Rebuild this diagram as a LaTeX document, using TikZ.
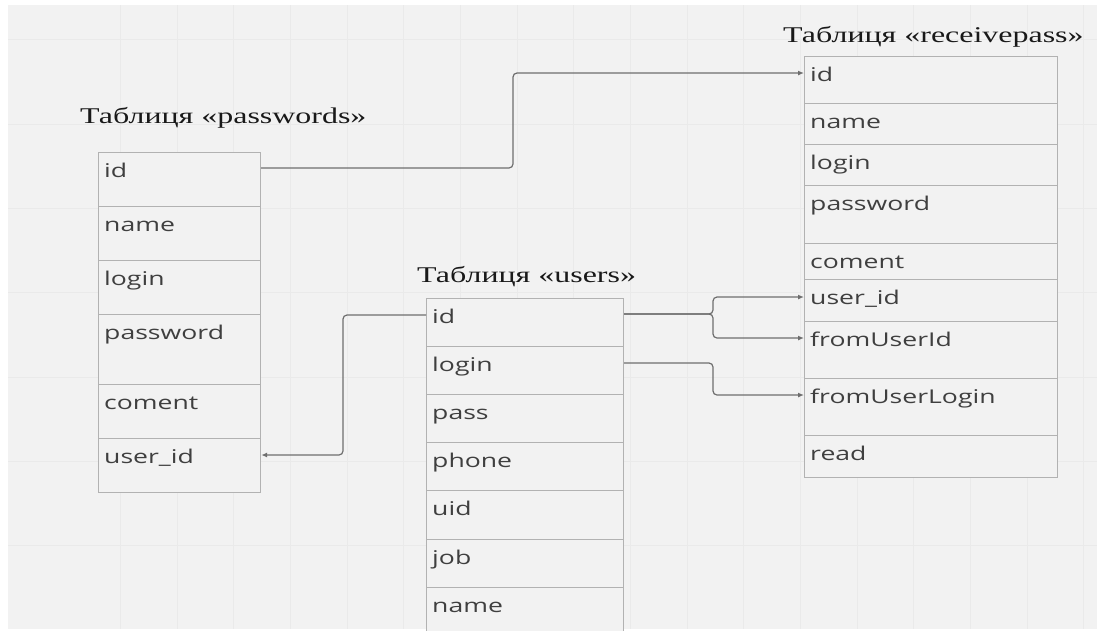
\documentclass[tikz,border=0pt]{standalone}
\usepackage{fontspec}
\usepackage{graphicx}
\setmainfont{Liberation Serif}
\newfontfamily\rowfont{Open Sans}
\usetikzlibrary{arrows.meta}
\definecolor{bg}{HTML}{F2F2F2}
\definecolor{bord}{HTML}{B2B2B2}
\definecolor{rowtxt}{HTML}{3F3F3F}
\definecolor{conncol}{HTML}{6E6E6E}
\definecolor{gridc}{HTML}{EAEAEA}
\newcommand{\sxr}{1.4}
\newcommand{\trow}[6]{%
  \node[rowbox, minimum width=#4pt, minimum height=#5pt, anchor=north west] (#1) at (#2,#3) {};
  \node[rowtext] (#1-t) at ([xshift=6pt,yshift=-25pt]#1.north west) {\scalebox{\sxr}[1]{#6}};
}
\begin{document}
\begin{tikzpicture}[x=1pt,y=-1pt,
  rowbox/.style={draw=bord, line width=1.2pt, fill=bg, inner sep=0pt},
  rowtext/.style={anchor=base west, inner sep=0pt, text=rowtxt, font=\rowfont\fontsize{19}{22}\selectfont},
  ttl/.style={anchor=base west, inner sep=0pt, text=black!90, font=\fontsize{22.5}{26}\selectfont},
  conn/.style={draw=conncol, line width=1.2pt, rounded corners=4pt, -{Latex[length=6pt,width=5pt]}}]
\clip (0,0) rectangle (1097,630);
\fill[white] (0,0) rectangle (1097,630);
\fill[bg] (8,5) rectangle (1097,629);
% faint grid
\foreach \gx in {120,177,233,290,347,403,460,517,573,630,687,743,800,857,913,970,1027,1083}
  \draw[gridc, line width=0.5pt] (\gx,5) -- (\gx,629);
\foreach \gy in {39,124,208,292,377,461,545}
  \draw[gridc, line width=0.5pt] (8,\gy) -- (1097,\gy);

% titles
\node[ttl] (t-pw) at (80,123) {\scalebox{1.42}[1]{Таблиця «passwords»}};
\node[ttl] (t-us) at (417,282) {\scalebox{1.42}[1]{Таблиця «users»}};
\node[ttl] (t-rp) at (783,42) {\scalebox{1.42}[1]{Таблиця «receivepass»}};

% passwords
\trow{pw-id}{98}{152}{162}{54}{id}
\trow{pw-name}{98}{206}{162}{54}{name}
\trow{pw-login}{98}{260}{162}{54}{login}
\trow{pw-pass}{98}{314}{162}{70}{password}
\trow{pw-com}{98}{384}{162}{54}{coment}
\trow{pw-uid}{98}{438}{162}{54}{user\_id}

% users
\trow{us-id}{426}{298}{197}{48}{id}
\trow{us-login}{426}{346}{197}{48}{login}
\trow{us-pass}{426}{394}{197}{48}{pass}
\trow{us-phone}{426}{442}{197}{48}{phone}
\trow{us-uid}{426}{490}{197}{49}{uid}
\trow{us-job}{426}{539}{197}{48}{job}
\trow{us-name}{426}{587}{197}{52}{name}

% receivepass
\trow{rp-id}{804}{56}{253}{47}{id}
\trow{rp-name}{804}{103}{253}{41}{name}
\trow{rp-login}{804}{144}{253}{41}{login}
\trow{rp-pass}{804}{185}{253}{58}{password}
\trow{rp-com}{804}{243}{253}{36}{coment}
\trow{rp-uid}{804}{279}{253}{42}{user\_id}
\trow{rp-fid}{804}{321}{253}{57}{fromUserId}
\trow{rp-flog}{804}{378}{253}{57}{fromUserLogin}
\trow{rp-read}{804}{435}{253}{42}{read}

% connection points
\coordinate (pwid-o) at ([yshift=-16pt]pw-id.north east);
\coordinate (pwuid-i) at ([yshift=-17pt]pw-uid.north east);
\coordinate (usid-w) at ([yshift=-17pt]us-id.north west);
\coordinate (usid-e) at ([yshift=-16pt]us-id.north east);
\coordinate (uslogin-e) at ([yshift=-17pt]us-login.north east);
\coordinate (rpid-i) at ([yshift=-17pt]rp-id.north west);
\coordinate (rpuid-i) at ([yshift=-18pt]rp-uid.north west);
\coordinate (rpfid-i) at ([yshift=-17pt]rp-fid.north west);
\coordinate (rpflog-i) at ([yshift=-17pt]rp-flog.north west);
\coordinate (j1) at (513,0);
\coordinate (j2) at (343,0);
\coordinate (j3) at (713,0);

\draw[conn] (pwid-o) -| (j1 |- rpid-i) -- (rpid-i);
\draw[conn] (usid-w) -| (j2 |- pwuid-i) -- (pwuid-i);
\draw[conn] (usid-e) -| (j3 |- rpuid-i) -- (rpuid-i);
\draw[conn] (usid-e) -| (j3 |- rpfid-i) -- (rpfid-i);
\draw[conn] (uslogin-e) -| (j3 |- rpflog-i) -- (rpflog-i);
\end{tikzpicture}
\end{document}
